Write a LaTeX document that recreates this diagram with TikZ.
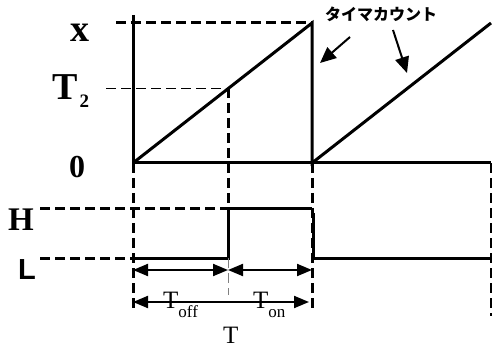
\documentclass[tikz,border=0pt]{standalone}
\usepackage{fontspec}
\setmainfont{Liberation Serif}
\setsansfont{Liberation Sans}
\newfontfamily\jpfont{Noto Sans CJK JP}
\usetikzlibrary{arrows.meta, positioning, calc}

\tikzset{
  solidline/.style={line width=3pt},
  dashline/.style={line width=3pt, dash pattern=on 10pt off 5pt},
  thindash/.style={line width=0.8pt, dash pattern=on 10pt off 5pt},
  dimline/.style={line width=2pt, {Triangle[length=15pt,width=12pt]}-{Triangle[length=15pt,width=12pt]}},
  callout/.style={line width=2pt, -{Triangle[length=16pt,width=14pt]}},
  lbl/.style={inner sep=0pt, anchor=base west},
}

\begin{document}
\begin{tikzpicture}[x=1pt, y=-1pt]
        \useasboundingbox (0,0) rectangle (492,347);

        % Define levels
        \def\ytop{23}   % counter top
        \def\ytwo{88}   % compare level
        \def\yzero{163} % zero line
        \def\yhi{209}   % output high
        \def\ylo{258}   % output low

        % Key points
        \coordinate (axtop) at (133,15);
        \coordinate (o) at (133,\yzero);
        \coordinate (xl) at (116,\ytop);
        \coordinate (pk1) at (312,\ytop);
        \coordinate (z1) at (312,\yzero);
        \coordinate (pk2) at (491,\ytop);
        \coordinate (z2) at (491,\yzero);
        \coordinate (t2l) at (106,\ytwo);
        \coordinate (t2) at (228,\ytwo);
        \coordinate (hl) at (40,\yhi);
        \coordinate (h1) at (228,\yhi);
        \coordinate (h2) at (312,\yhi);
        \coordinate (ll) at (40,\ylo);
        \coordinate (l0) at (133,\ylo);
        \coordinate (l1) at (228,\ylo);
        \coordinate (f1) at (313,213);
        \coordinate (f2) at (313,\ylo);
        \coordinate (l2) at (491,\ylo);

        % Timer count sawtooth
        \draw[solidline] (axtop) -- (o) -- (z2);
        \draw[solidline] (o) -- (pk1) -- (z1) -- (pk2);
        \draw[dashline] (xl) -- (pk1);
        \draw[thindash] (t2l) -- (t2);
        \draw[dashline] (t2) -- (h1);

        % Guide lines down to the output
        \draw[dashline] (o) -- (133,312);
        \draw[dashline] (z1) -- (312,312);
        \draw[dashline] (z2) -- (491,316);

        % Output waveform
        \draw[dashline] (hl) -- (h1);
        \draw[dashline] (ll) -- (l0);
        \draw[solidline] (l0) -- (l1) -- (h1) -- (h2);
        \draw[solidline] (f1) -- (f2) -- (l2);
        \draw[thindash, gray] (l1) -- (228,295);

        % Level labels
        \node[lbl] (xlab) at (70,42) {\fontsize{38}{38}\selectfont\bfseries x};
        \node[lbl] (t2lab) at (52,100) {\fontsize{38}{38}\selectfont\bfseries T\hspace{2pt}\raisebox{-8pt}{\fontsize{19}{19}\selectfont 2}};
        \node[lbl] (zlab) at (69,178) {\fontsize{32}{32}\selectfont\bfseries 0};
        \node[lbl] (hlab) at (8,230) {\fontsize{33}{33}\selectfont\bfseries H};
        \node[lbl] (llab) at (18,279) {\fontsize{29}{29}\selectfont\sffamily\bfseries L};

        % Period arrows
        \coordinate (a0) at (133,270);
        \coordinate (a1) at (228,270);
        \coordinate (a2) at (312,270);
        \coordinate (b0) at (133,302);
        \coordinate (b2) at (309,302);
        \draw[dimline] (a0) -- (a1);
        \draw[dimline] (a1) -- (a2);
        \draw[dimline] (b0) -- (b2);
        \node[lbl] (tofflab) at (163,308) {\fontsize{25}{25}\selectfont T\raisebox{-9pt}{\fontsize{17}{17}\selectfont off}};
        \node[lbl] (tonlab) at (253,308) {\fontsize{25}{25}\selectfont T\raisebox{-9pt}{\fontsize{17}{17}\selectfont on}};
        \node[lbl] (tlab) at (223,343) {\fontsize{25}{25}\selectfont T};

        % Callout
        \node[inner sep=0pt] (count) at (381,14) {\fontsize{16}{16}\selectfont\jpfont\bfseries タイマカウント};
        \coordinate (c1) at (350,37);
        \coordinate (c2) at (393,30);
        \draw[callout] (c1) -- (320,63);
        \draw[callout] (c2) -- (407,73);
    \end{tikzpicture}
\end{document}
